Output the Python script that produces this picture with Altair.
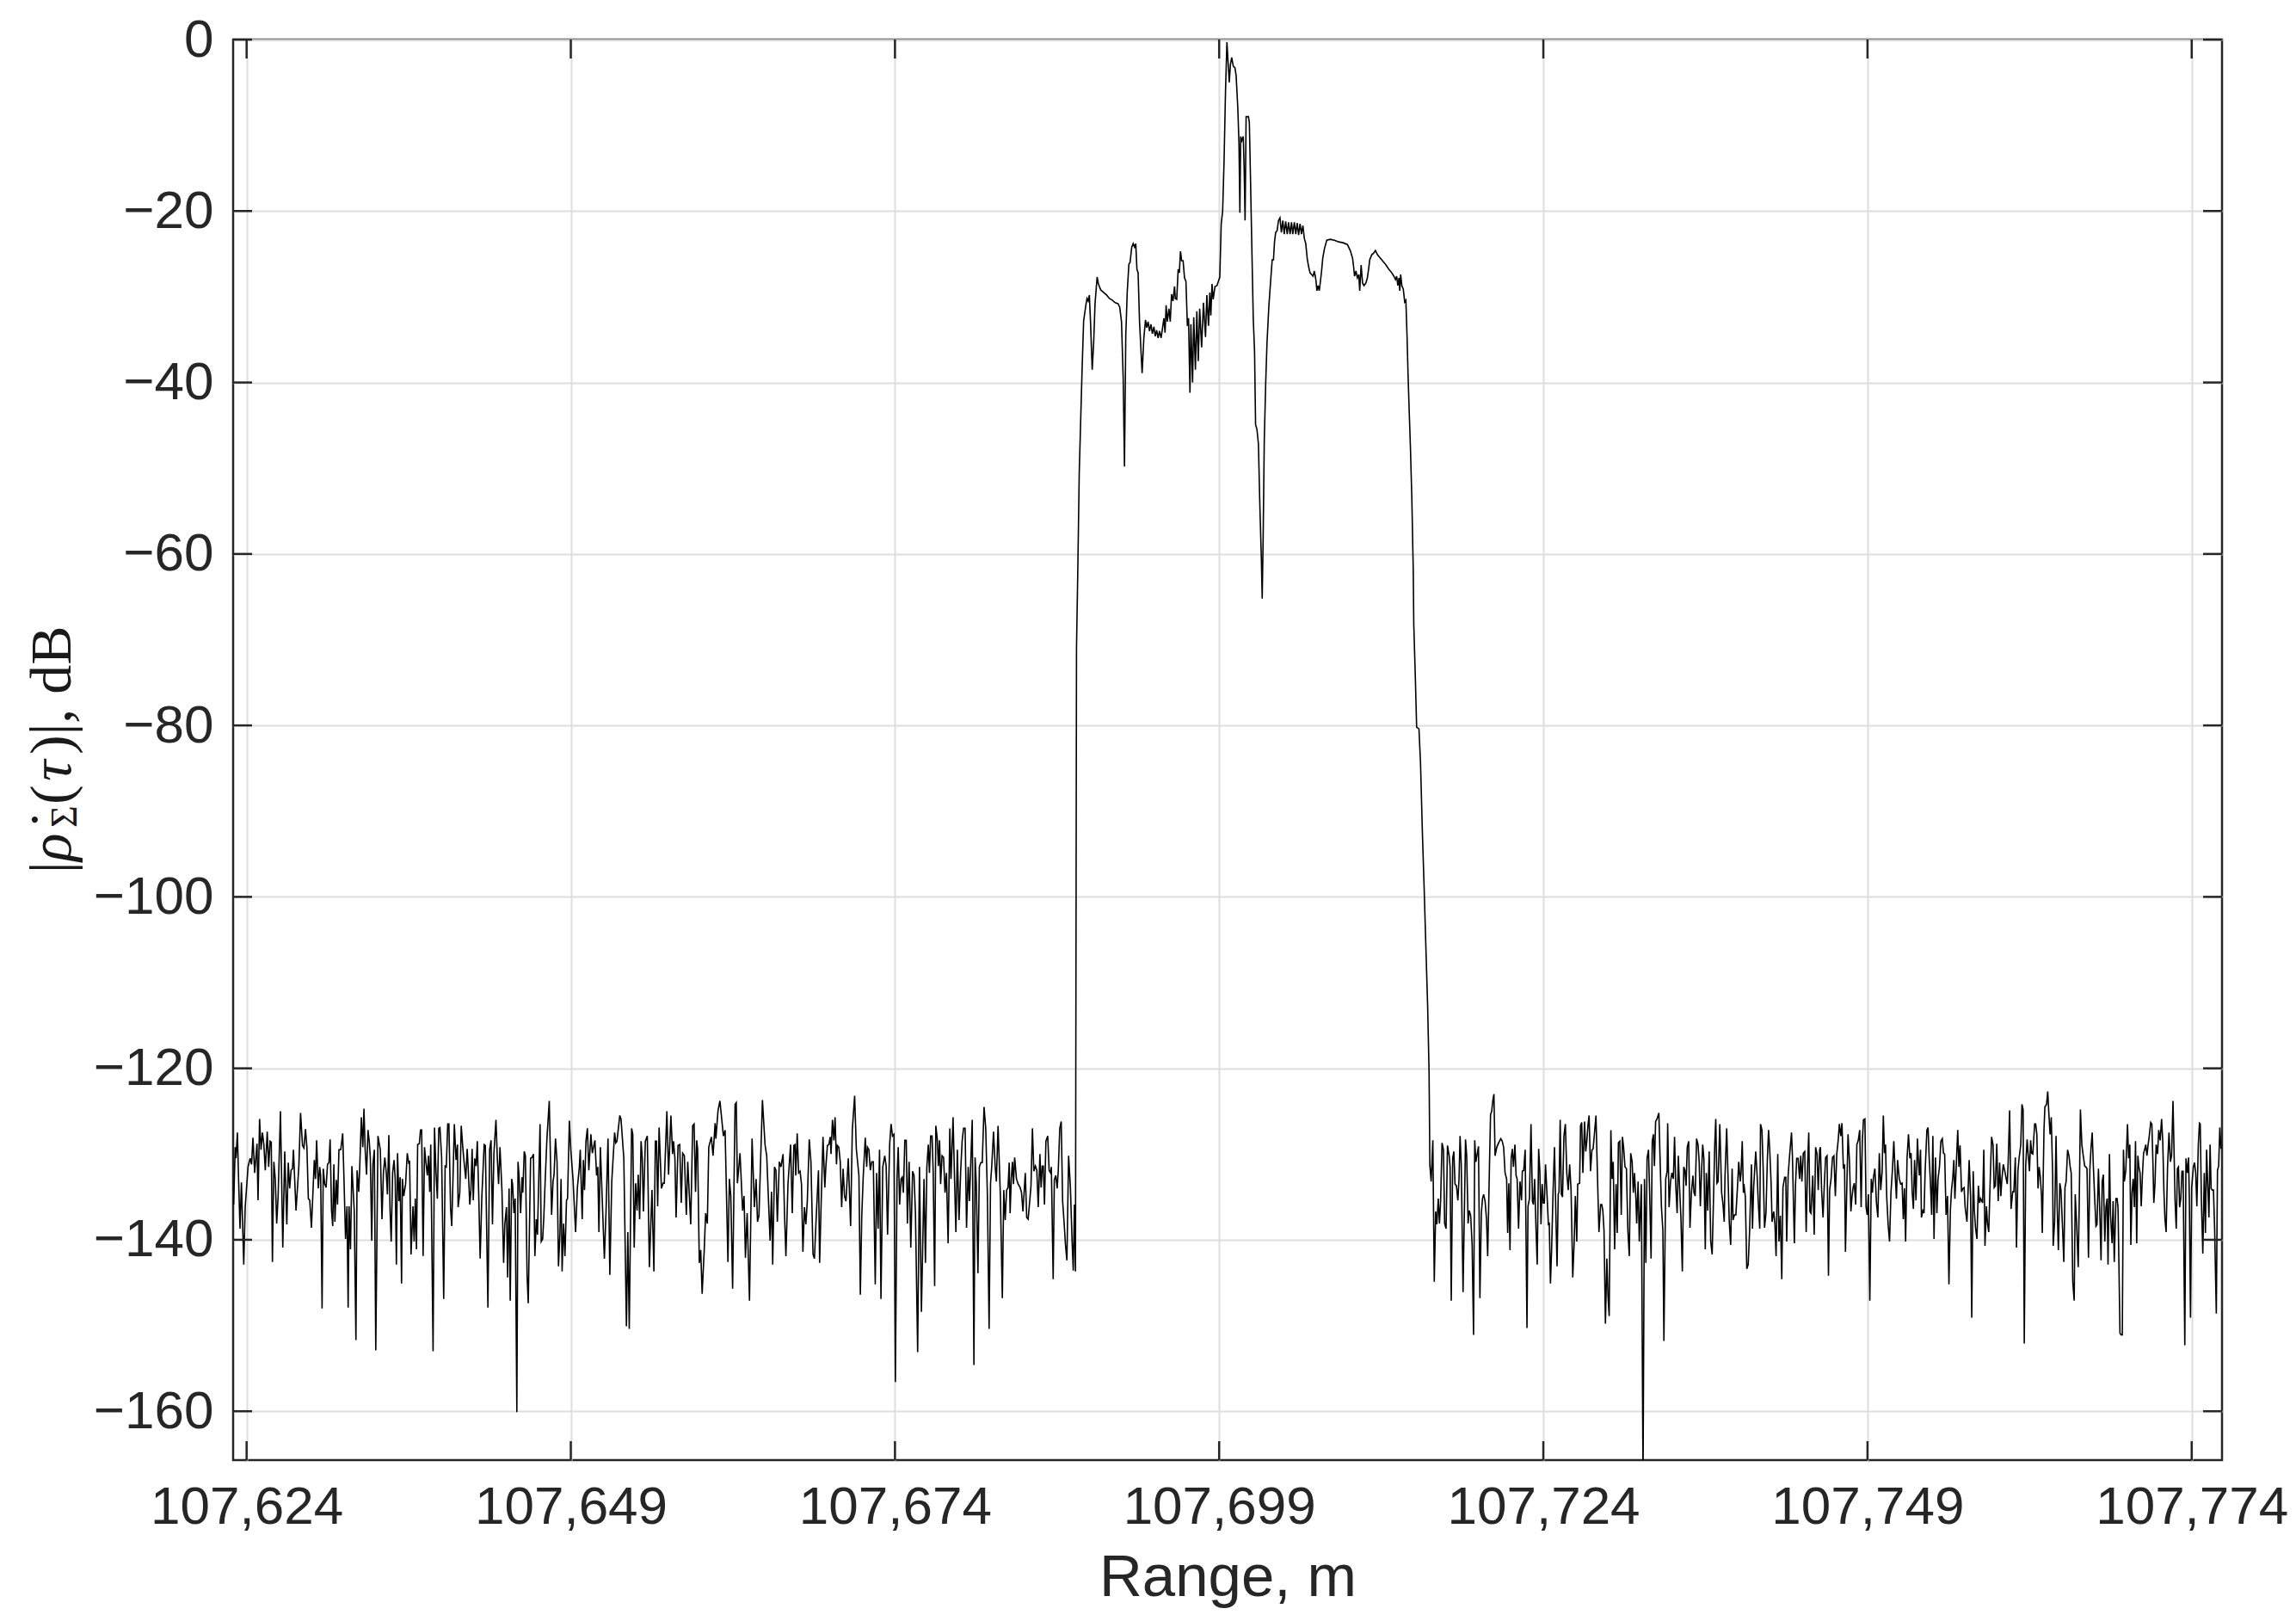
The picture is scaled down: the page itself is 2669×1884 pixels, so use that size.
import altair as alt
import numpy as np
import pandas as pd

# Range values are stored as (range - 107,000 m, level in dB) pairs.
RANGE_BASE = 107000.0

left_noise = [
    (623.00, -135.9), (623.12, -129.2), (623.18, -130.5), (623.29, -127.5), (623.38, -132.9), (623.49, -138.7),
    (623.60, -133.3), (623.78, -142.9), (623.89, -136.2), (624.11, -131.5), (624.27, -130.5), (624.38, -131.2),
    (624.49, -128.1), (624.62, -132.2), (624.80, -128.8), (624.88, -135.4), (625.00, -125.9), (625.11, -129.5),
    (625.22, -127.5), (625.33, -128.9), (625.44, -131.9), (625.59, -127.4), (625.70, -131.5), (625.81, -128.5),
    (625.90, -128.6), (625.99, -142.6), (626.10, -130.9), (626.21, -132.9), (626.32, -138.1), (626.43, -134.9),
    (626.61, -125.0), (626.79, -140.9), (626.94, -129.7), (627.10, -138.2), (627.21, -131.0), (627.32, -134.0),
    (627.43, -131.9), (627.54, -131.7), (627.61, -129.5), (627.81, -136.6), (628.03, -131.4), (628.16, -125.2),
    (628.31, -129.0), (628.42, -129.3), (628.54, -127.1), (628.65, -129.2), (628.76, -135.2), (628.87, -135.4),
    (629.00, -138.6), (629.22, -130.7), (629.31, -132.9), (629.40, -128.4), (629.53, -134.0), (629.64, -131.5),
    (629.71, -132.5), (629.82, -148.0), (629.91, -131.7), (630.02, -133.5), (630.13, -133.9), (630.24, -131.2),
    (630.35, -131.0), (630.44, -128.3), (630.55, -136.6), (630.64, -138.4), (630.73, -131.2), (630.81, -137.9),
    (630.92, -133.0), (631.01, -135.9), (631.12, -129.5), (631.26, -129.5), (631.41, -127.6), (631.50, -132.4),
    (631.63, -139.9), (631.74, -136.1), (631.83, -147.9), (631.90, -136.1), (632.01, -141.1), (632.12, -131.4),
    (632.30, -136.6), (632.43, -151.7), (632.52, -131.9), (632.65, -134.4), (632.72, -131.7), (632.85, -125.7),
    (632.96, -129.2), (633.05, -124.7), (633.14, -129.4), (633.25, -132.4), (633.36, -127.2), (633.45, -128.4),
    (633.54, -130.4), (633.65, -140.1), (633.74, -131.2), (633.85, -129.5), (633.96, -152.9), (634.13, -127.9),
    (634.31, -129.5), (634.44, -137.6), (634.55, -132.2), (634.66, -130.4), (634.77, -132.2), (634.86, -134.7),
    (634.97, -127.8), (635.06, -136.4), (635.15, -140.2), (635.26, -132.2), (635.37, -130.7), (635.46, -132.9),
    (635.55, -142.9), (635.64, -129.9), (635.75, -135.5), (635.84, -132.7), (635.95, -145.1), (636.01, -132.9),
    (636.12, -134.9), (636.26, -133.5), (636.39, -129.9), (636.50, -131.0), (636.57, -130.9), (636.68, -141.7),
    (636.83, -136.1), (636.92, -140.2), (637.01, -135.2), (637.10, -141.1), (637.19, -128.9), (637.32, -128.8),
    (637.41, -127.2), (637.50, -127.2), (637.61, -141.9), (637.72, -129.2), (637.83, -131.0), (637.94, -132.5),
    (638.03, -130.2), (638.12, -134.4), (638.20, -128.9), (638.38, -153.0), (638.49, -126.9), (638.60, -132.0),
    (638.71, -135.2), (638.82, -127.0), (638.91, -126.9), (639.04, -130.4), (639.20, -146.9), (639.31, -131.4),
    (639.40, -131.5), (639.51, -126.5), (639.60, -126.5), (639.73, -136.4), (639.82, -138.4), (639.93, -132.0),
    (640.02, -126.5), (640.15, -130.7), (640.26, -128.9), (640.31, -136.2), (640.44, -134.5), (640.55, -126.7),
    (640.66, -129.0), (640.77, -130.9), (640.90, -132.9), (641.01, -129.4), (641.10, -132.0), (641.21, -135.9),
    (641.30, -134.2), (641.39, -129.4), (641.48, -135.4), (641.59, -130.5), (641.70, -131.4), (641.79, -128.5),
    (641.90, -134.7), (642.01, -142.2), (642.14, -135.0), (642.32, -128.9), (642.41, -129.0), (642.61, -147.9),
    (642.74, -129.5), (642.85, -128.4), (642.96, -138.2), (643.07, -130.0), (643.23, -126.0), (643.34, -130.7),
    (643.43, -133.5), (643.54, -129.2), (643.69, -134.2), (643.82, -142.7), (643.91, -138.2), (644.04, -136.2),
    (644.13, -144.4), (644.24, -134.0), (644.33, -147.1),
    (644.44, -132.9), (644.51, -133.5), (644.62, -136.9), (644.71, -135.2), (644.84, -160.1), (644.93, -130.9),
    (645.01, -132.5), (645.13, -136.9), (645.24, -132.7), (645.30, -134.5), (645.41, -129.7), (645.50, -130.2),
    (645.63, -144.2), (645.72, -147.4), (645.81, -138.9), (645.90, -130.5), (646.01, -130.4), (646.12, -130.0),
    (646.23, -141.9), (646.34, -137.6), (646.43, -139.4), (646.52, -133.5), (646.63, -126.5), (646.72, -140.2),
    (646.83, -139.9), (646.92, -137.4), (647.03, -132.9), (647.16, -128.2), (647.34, -123.8), (647.52, -137.1),
    (647.63, -133.2), (647.71, -132.4), (647.82, -128.2), (647.94, -130.9), (648.05, -143.1), (648.16, -139.4),
    (648.25, -132.9), (648.33, -143.7), (648.44, -138.1), (648.55, -141.9), (648.67, -135.4), (648.75, -135.2),
    (648.89, -126.1), (649.00, -129.5), (649.17, -132.9), (649.37, -139.1), (649.51, -133.9), (649.66, -131.5),
    (649.73, -129.5), (649.88, -137.6), (649.97, -130.7), (650.06, -134.2), (650.17, -128.5), (650.28, -127.0),
    (650.39, -131.9), (650.55, -127.7), (650.66, -129.9), (650.86, -128.4), (650.99, -132.5), (651.08, -131.5),
    (651.17, -139.1), (651.28, -129.2), (651.43, -135.5), (651.59, -142.2), (651.72, -136.6), (651.87, -128.2),
    (652.01, -144.1), (652.16, -133.2), (652.38, -127.5), (652.47, -128.7), (652.56, -128.5), (652.78, -125.5),
    (652.87, -125.9), (653.09, -130.5), (653.29, -150.1), (653.40, -139.1), (653.51, -150.4), (653.69, -127.0),
    (653.78, -127.7), (653.89, -140.9), (654.00, -133.4), (654.11, -136.6), (654.20, -132.4), (654.31, -137.6),
    (654.42, -128.5), (654.51, -130.4), (654.60, -136.7), (654.75, -128.5), (654.90, -127.9), (655.06, -143.2),
    (655.26, -134.2), (655.41, -143.7), (655.52, -128.5), (655.61, -128.5), (655.70, -136.1), (655.81, -126.9),
    (655.99, -134.0), (656.12, -133.4), (656.21, -133.4), (656.41, -125.0), (656.54, -132.4), (656.72, -125.5),
    (656.85, -130.0), (656.92, -128.5), (657.03, -130.5), (657.12, -137.4), (657.27, -129.0), (657.40, -128.9),
    (657.52, -135.7), (657.63, -129.9), (657.76, -130.2), (657.91, -137.1), (658.02, -130.9), (658.25, -138.2),
    (658.40, -126.7), (658.51, -126.5), (658.62, -134.4), (658.71, -128.4), (658.78, -129.4), (658.91, -142.7),
    (659.02, -141.2), (659.13, -146.3), (659.29, -141.2), (659.40, -136.9), (659.53, -138.1), (659.64, -129.2),
    (659.84, -128.0), (659.97, -130.2), (660.13, -126.4), (660.19, -128.2), (660.35, -125.0), (660.50, -123.8),
    (660.77, -127.9), (660.90, -127.2), (661.12, -142.6), (661.23, -132.9), (661.34, -134.9), (661.48, -145.7),
    (661.67, -124.2), (661.76, -124.0), (661.85, -133.4), (662.05, -129.9), (662.25, -136.6), (662.36, -134.9),
    (662.47, -142.1), (662.60, -136.9), (662.78, -147.1), (662.98, -128.2), (663.16, -136.2), (663.29, -132.9),
    (663.40, -137.9), (663.51, -137.2), (663.78, -123.7), (663.98, -128.9), (664.11, -130.2), (664.37, -140.1),
    (664.48, -134.4), (664.57, -142.9), (664.71, -131.5), (664.82, -131.9), (664.93, -137.9), (665.08, -130.9),
    (665.21, -131.5), (665.37, -130.0), (665.48, -136.9), (665.59, -141.9), (665.75, -133.5), (665.95, -128.9),
    (666.08, -136.9),
    (666.20, -129.0), (666.29, -128.9), (666.35, -132.5), (666.46, -127.6), (666.57, -132.2), (666.68, -132.0),
    (666.79, -133.5), (666.90, -141.4), (667.02, -136.2), (667.13, -138.2), (667.24, -135.5), (667.39, -128.3),
    (667.52, -130.9), (667.68, -141.7), (667.79, -142.2), (667.92, -137.6), (668.10, -131.9), (668.19, -142.7),
    (668.30, -136.2), (668.45, -128.0), (668.59, -133.9), (668.67, -131.5), (668.79, -129.0), (668.90, -128.9),
    (669.01, -128.0), (669.07, -130.0), (669.18, -126.0), (669.29, -128.4), (669.38, -125.7), (669.49, -131.2),
    (669.56, -129.0), (669.67, -129.2), (669.78, -130.9), (669.89, -136.2), (670.00, -131.7), (670.11, -134.9),
    (670.22, -135.5), (670.40, -130.5), (670.58, -138.4), (670.71, -127.2), (670.89, -123.2), (671.02, -129.4),
    (671.22, -132.5), (671.33, -146.4), (671.44, -137.2), (671.55, -132.7), (671.71, -128.1), (671.82, -131.5),
    (671.88, -129.2), (671.99, -129.5), (672.10, -131.9), (672.21, -130.9), (672.33, -130.9), (672.48, -145.2),
    (672.59, -132.2), (672.70, -138.7), (672.81, -129.5), (672.92, -146.9), (673.06, -131.5), (673.21, -130.2),
    (673.32, -131.4), (673.43, -139.4), (673.59, -128.9), (673.70, -126.5), (673.81, -127.9), (673.92, -127.7),
    (674.03, -156.6), (674.16, -132.9), (674.25, -129.2), (674.36, -135.9), (674.47, -132.9), (674.56, -132.7),
    (674.65, -134.5), (674.76, -128.4), (674.87, -128.4), (674.96, -138.1), (675.09, -130.9), (675.22, -140.9),
    (675.36, -132.0), (675.47, -132.5), (675.58, -136.9), (675.75, -153.1), (675.89, -131.5), (676.04, -148.4),
    (676.24, -132.9), (676.35, -142.7), (676.46, -131.5), (676.57, -128.9), (676.66, -132.2), (676.75, -127.9),
    (676.86, -127.9), (676.95, -132.2), (677.06, -145.4), (677.15, -126.7), (677.26, -128.2), (677.35, -131.4),
    (677.44, -128.4), (677.52, -133.5), (677.63, -130.2), (677.75, -130.4), (677.86, -134.5), (677.97, -132.2),
    (678.10, -140.4), (678.23, -127.0), (678.32, -132.9), (678.48, -125.7), (678.59, -132.7), (678.70, -139.1),
    (678.81, -129.5), (678.94, -137.7), (679.07, -131.9), (679.18, -128.5), (679.29, -127.0), (679.41, -127.0),
    (679.52, -138.6), (679.65, -131.5), (679.74, -135.5), (679.83, -131.7), (679.96, -126.0), (680.09, -154.6),
    (680.18, -130.4), (680.27, -133.4), (680.40, -143.9), (680.51, -131.5), (680.62, -131.0), (680.73, -131.0),
    (680.87, -124.5), (681.00, -127.0), (681.13, -134.9), (681.26, -150.4), (681.37, -133.4), (681.46, -131.5),
    (681.60, -127.4), (681.73, -131.5), (681.82, -133.2), (681.95, -126.7), (682.13, -134.9), (682.28, -146.8),
    (682.39, -134.2), (682.50, -137.7), (682.61, -134.2), (682.72, -133.9), (682.81, -131.0), (682.88, -136.9),
    (682.97, -132.9), (683.06, -130.9), (683.14, -133.5), (683.23, -130.4), (683.37, -132.9), (683.50, -133.5),
    (683.65, -133.9), (683.76, -134.5), (683.87, -136.7), (684.05, -132.2), (684.16, -137.4), (684.27, -137.6),
    (684.38, -135.7), (684.49, -133.7), (684.60, -127.0), (684.71, -132.0), (684.83, -131.4), (684.94, -131.9),
    (685.05, -136.2), (685.18, -130.0), (685.27, -133.9), (685.36, -131.4), (685.44, -131.4), (685.53, -135.9),
    (685.64, -128.5), (685.78, -127.9), (685.89, -131.9), (686.00, -132.2), (686.06, -131.5), (686.20, -144.6),
    (686.29, -133.0), (686.40, -132.5), (686.51, -134.0), (686.60, -131.7), (686.71, -127.0), (686.82, -126.2),
    (686.93, -135.5), (687.04, -137.9), (687.15, -140.6), (687.26, -142.4), (687.39, -130.2), (687.53, -133.9),
    (687.66, -140.2), (687.75, -143.6), (687.84, -135.9), (687.92, -143.7),
]

central_response = [
    (688.00, -71.0), (688.10, -61.9), (688.21, -50.6), (688.43, -38.5), (688.55, -32.8), (688.73, -30.9),
    (688.81, -30.2), (688.90, -30.5), (688.99, -29.8), (689.08, -32.9), (689.21, -38.5), (689.32, -35.5),
    (689.43, -30.8), (689.59, -27.7), (689.69, -28.5), (689.87, -29.2), (690.09, -29.5), (690.32, -29.8),
    (690.54, -30.2), (690.76, -30.4), (690.98, -30.7), (691.20, -30.8), (691.33, -31.2), (691.47, -32.9),
    (691.60, -39.5), (691.70, -49.8), (691.80, -34.5), (691.91, -29.5), (692.04, -26.2), (692.13, -26.0),
    (692.26, -24.2), (692.37, -23.8), (692.48, -24.2), (692.57, -23.8), (692.66, -26.8), (692.75, -27.2),
    (692.86, -32.9), (692.97, -36.2), (693.06, -38.9), (693.19, -34.9), (693.32, -32.7), (693.42, -33.6),
    (693.52, -32.9), (693.63, -34.0), (693.74, -33.2), (693.85, -34.3), (693.97, -33.5), (694.07, -34.6),
    (694.18, -33.9), (694.29, -34.8), (694.40, -34.0), (694.52, -34.8), (694.63, -33.7), (694.74, -32.5),
    (694.83, -34.2), (694.91, -31.0), (695.00, -32.9), (695.13, -31.4), (695.23, -32.9), (695.33, -29.7),
    (695.44, -30.5), (695.56, -28.8), (695.62, -30.2), (695.73, -30.3), (695.84, -26.8), (695.93, -27.2),
    (696.02, -24.7), (696.11, -25.8), (696.22, -25.8), (696.33, -27.8), (696.44, -28.2), (696.55, -33.4),
    (696.64, -32.5), (696.75, -41.2), (696.82, -33.2), (696.95, -40.0), (697.04, -32.4), (697.17, -38.5),
    (697.28, -31.7), (697.39, -37.5), (697.50, -31.4), (697.65, -35.9), (697.79, -30.7), (697.95, -34.7),
    (698.05, -29.8), (698.18, -33.4), (698.28, -29.5), (698.36, -32.2), (698.45, -28.5), (698.54, -30.3),
    (698.68, -28.8), (698.83, -28.7), (699.05, -27.7), (699.16, -21.5), (699.27, -20.0), (699.38, -14.1),
    (699.49, -6.1), (699.60, -0.3), (699.78, -5.0), (699.87, -2.9), (699.97, -2.1), (700.09, -3.1),
    (700.22, -3.3), (700.31, -4.2), (700.44, -8.0), (700.53, -12.2), (700.60, -20.2), (700.66, -11.3),
    (700.75, -11.8), (700.86, -11.3), (700.93, -15.1), (701.00, -21.1), (701.08, -9.0), (701.26, -9.0),
    (701.33, -9.7), (701.41, -15.6), (701.53, -24.9), (701.63, -32.5), (701.73, -36.3), (701.81, -44.9),
    (701.92, -45.5), (702.03, -47.2), (702.14, -54.4), (702.26, -60.8), (702.32, -65.2), (702.39, -58.6),
    (702.48, -46.8), (702.59, -40.1), (702.69, -35.4), (702.83, -31.2), (702.96, -28.4), (703.09, -25.7),
    (703.19, -25.7), (703.27, -23.6), (703.36, -22.5), (703.47, -22.3), (703.58, -21.1), (703.69, -20.8),
    (703.80, -22.5), (703.91, -21.1), (704.02, -22.7), (704.13, -21.2), (704.25, -22.7), (704.35, -21.3),
    (704.47, -22.7), (704.58, -21.3), (704.68, -22.7), (704.80, -21.3), (704.91, -22.7), (705.02, -21.4),
    (705.13, -22.8), (705.24, -21.5), (705.35, -22.7), (705.46, -21.7), (705.57, -23.2), (705.68, -23.8),
    (705.79, -25.5), (705.90, -26.5), (706.01, -27.2), (706.12, -27.4), (706.24, -27.6), (706.34, -27.0),
    (706.46, -28.0), (706.54, -29.3), (706.63, -28.7), (706.72, -29.3), (706.81, -28.2), (706.90, -27.0),
    (706.99, -25.5), (707.12, -24.4), (707.30, -23.4), (707.56, -23.3), (707.89, -23.4), (708.23, -23.6),
    (708.56, -23.7), (708.89, -23.9), (709.11, -24.6), (709.29, -25.5), (709.37, -26.5), (709.44, -27.6),
    (709.55, -27.0), (709.66, -27.8), (709.77, -27.4), (709.84, -29.3), (709.95, -26.3), (710.06, -28.4),
    (710.17, -28.7), (710.32, -28.4), (710.43, -27.8), (710.55, -26.5), (710.61, -25.7), (710.77, -25.1),
    (710.92, -24.9), (711.05, -24.6), (711.21, -25.1), (711.43, -25.5), (711.65, -25.9), (711.87, -26.3),
    (712.09, -26.8), (712.31, -27.2), (712.47, -27.6), (712.60, -28.0), (712.69, -27.6), (712.78, -28.7),
    (712.87, -27.8), (712.93, -29.3), (713.00, -27.4), (713.09, -28.7), (713.20, -29.1), (713.31, -30.6),
    (713.40, -30.4), (713.49, -34.6), (713.57, -39.2), (713.67, -43.9), (713.75, -47.5), (713.86, -53.5),
    (713.97, -62.0), (714.01, -68.2), (714.13, -74.4), (714.23, -80.2), (714.41, -80.4), (714.53, -84.4),
    (714.68, -92.8), (714.81, -99.0), (714.96, -106.7), (715.08, -112.8), (715.19, -120.5), (715.25, -131.3),
]

right_noise = [
    (715.35, -133.2), (715.48, -128.4), (715.59, -144.9), (715.70, -136.7), (715.79, -138.2), (715.90, -135.2),
    (715.99, -138.1), (716.08, -135.5), (716.19, -128.7), (716.30, -129.5), (716.39, -138.1), (716.50, -138.7),
    (716.61, -129.0), (716.74, -130.2), (716.81, -131.5), (716.90, -147.1), (717.01, -130.5), (717.10, -129.7),
    (717.19, -133.5), (717.30, -133.7), (717.41, -135.4), (717.50, -132.9), (717.58, -127.9), (717.67, -131.2),
    (717.81, -146.1), (717.92, -135.9), (718.00, -128.3), (718.09, -130.2), (718.20, -138.1), (718.29, -136.6),
    (718.40, -137.2), (718.51, -140.6), (718.62, -151.1), (718.71, -128.4), (718.80, -130.9), (718.91, -129.9),
    (719.00, -129.1), (719.11, -146.8), (719.22, -136.9), (719.31, -135.2), (719.40, -134.7), (719.51, -135.5),
    (719.62, -137.6), (719.71, -141.9), (719.84, -131.9), (719.93, -125.4), (720.02, -125.0), (720.10, -123.8),
    (720.19, -123.0), (720.28, -130.2), (720.41, -129.2), (720.55, -128.7), (720.72, -128.2), (720.83, -128.5),
    (720.94, -129.2), (721.05, -132.2), (721.17, -132.9), (721.25, -139.2), (721.34, -133.4), (721.43, -141.2),
    (721.52, -130.5), (721.61, -129.4), (721.70, -131.5), (721.81, -128.9), (721.90, -132.5), (721.98, -132.9),
    (722.09, -138.7), (722.20, -133.2), (722.32, -135.4), (722.38, -132.0), (722.49, -131.9), (722.60, -129.5),
    (722.74, -150.3), (722.82, -136.1), (722.93, -135.2), (723.05, -126.5), (723.16, -135.5), (723.24, -135.9),
    (723.33, -132.9), (723.44, -138.9), (723.53, -142.9), (723.64, -129.4), (723.73, -131.9), (723.82, -138.2),
    (723.91, -133.5), (724.00, -135.7), (724.08, -135.7), (724.17, -131.2), (724.31, -135.5), (724.39, -138.2),
    (724.46, -138.1), (724.55, -145.1), (724.64, -141.1), (724.75, -134.5), (724.86, -129.2), (724.97, -137.2),
    (725.06, -143.1), (725.15, -134.7), (725.21, -134.4), (725.30, -126.0), (725.39, -134.7), (725.48, -135.0),
    (725.59, -127.9), (725.70, -126.5), (725.81, -132.2), (725.92, -134.2), (726.03, -131.2), (726.14, -134.2),
    (726.27, -144.4), (726.38, -140.2), (726.47, -134.9), (726.58, -140.2), (726.65, -133.5), (726.80, -133.4),
    (726.87, -126.7), (726.96, -126.3), (727.05, -132.2), (727.18, -126.2), (727.27, -129.7), (727.36, -128.4),
    (727.44, -126.7), (727.53, -125.5), (727.64, -132.0), (727.75, -129.5), (727.84, -129.4), (727.95, -127.5),
    (728.06, -125.5), (728.17, -132.2), (728.29, -139.1), (728.42, -135.9), (728.51, -135.9), (728.59, -136.6),
    (728.68, -138.9), (728.79, -149.8), (728.90, -142.2), (728.99, -146.6), (729.08, -148.9), (729.21, -127.2),
    (729.30, -132.9), (729.39, -130.9), (729.50, -141.1), (729.61, -133.5), (729.70, -139.2), (729.79, -128.7),
    (729.90, -128.5), (730.01, -137.1), (730.10, -128.0), (730.19, -129.2), (730.30, -131.5), (730.41, -131.7),
    (730.52, -138.9), (730.63, -141.9), (730.74, -129.9), (730.85, -130.9), (730.94, -134.5), (731.03, -132.2),
    (731.14, -135.2), (731.20, -138.1), (731.31, -133.2), (731.40, -140.2), (731.56, -133.5), (731.69, -168.0),
    (731.80, -132.9), (731.91, -142.7), (732.00, -130.5), (732.11, -129.5), (732.22, -135.9), (732.31, -142.2),
    (732.40, -128.5), (732.49, -127.7), (732.57, -131.4), (732.66, -126.2), (732.77, -125.9), (732.91, -125.2),
    (733.02, -131.5), (733.11, -136.2), (733.22, -138.9), (733.30, -151.8), (733.44, -132.9), (733.55, -132.0),
    (733.59, -126.4), (733.70, -136.2), (733.81, -133.2), (733.92, -132.2), (734.03, -132.9), (734.12, -128.0),
    (734.21, -133.5), (734.32, -136.9), (734.41, -130.2), (734.50, -133.7), (734.61, -137.4), (734.72, -143.7),
    (734.83, -131.5), (734.92, -131.9), (735.01, -133.7), (735.10, -129.2), (735.21, -128.5),
    (735.31, -138.6), (735.42, -134.5), (735.54, -132.5), (735.62, -134.5), (735.71, -134.9), (735.82, -128.2),
    (735.93, -128.9), (736.02, -130.9), (736.11, -136.1), (736.20, -132.2), (736.29, -128.9), (736.38, -130.5),
    (736.49, -141.1), (736.57, -132.2), (736.68, -136.6), (736.79, -129.7), (736.91, -140.2), (737.02, -141.7),
    (737.11, -136.2), (737.22, -128.9), (737.30, -125.9), (737.39, -133.4), (737.48, -133.2), (737.61, -126.5),
    (737.75, -134.5), (737.86, -135.9), (737.95, -137.9), (738.01, -132.7), (738.14, -127.0), (738.25, -132.9),
    (738.34, -137.9), (738.45, -140.6), (738.56, -131.7), (738.63, -137.7), (738.74, -137.1), (738.85, -137.1),
    (738.96, -134.2), (739.07, -130.9), (739.18, -133.2), (739.25, -132.2), (739.34, -128.5), (739.43, -134.5),
    (739.47, -133.5), (739.58, -135.0), (739.69, -143.4), (739.80, -142.9), (739.91, -138.9), (740.05, -131.2),
    (740.13, -138.7), (740.22, -133.9), (740.38, -129.7), (740.49, -132.5), (740.58, -135.7), (740.69, -138.7),
    (740.75, -126.5), (740.86, -127.2), (740.95, -131.5), (741.06, -138.6), (741.17, -136.9), (741.28, -130.5),
    (741.37, -127.2), (741.46, -129.5), (741.57, -133.5), (741.64, -137.9), (741.77, -136.7), (741.86, -138.1),
    (741.95, -141.9), (742.08, -130.0), (742.17, -140.2), (742.28, -137.2), (742.39, -144.6), (742.48, -133.9),
    (742.61, -132.7), (742.70, -132.7), (742.77, -140.2), (742.88, -132.5), (742.99, -130.2), (743.14, -127.5),
    (743.21, -130.2), (743.36, -140.4), (743.45, -133.5), (743.54, -130.5), (743.65, -130.5), (743.76, -132.9),
    (743.85, -130.2), (743.94, -133.2), (744.05, -129.9), (744.16, -129.7), (744.27, -139.1), (744.38, -131.2),
    (744.47, -127.5), (744.56, -136.7), (744.64, -136.9), (744.78, -132.5), (744.89, -139.4), (745.00, -129.2),
    (745.11, -130.0), (745.20, -134.2), (745.31, -129.5), (745.37, -129.2), (745.46, -134.2), (745.57, -137.4),
    (745.66, -133.9), (745.77, -130.4), (745.88, -130.2), (745.99, -144.2), (746.08, -134.2), (746.19, -132.9),
    (746.30, -130.4), (746.41, -130.2), (746.52, -134.9), (746.63, -130.0), (746.74, -128.4), (746.83, -126.5),
    (746.94, -127.9), (747.03, -126.4), (747.14, -131.7), (747.23, -131.2), (747.30, -141.4), (747.41, -133.5),
    (747.50, -127.7), (747.61, -130.9), (747.72, -136.7), (747.81, -134.9), (747.89, -133.9), (747.98, -133.4),
    (748.09, -135.9), (748.18, -128.9), (748.29, -128.4), (748.40, -127.2), (748.51, -136.2), (748.60, -128.5),
    (748.69, -126.0), (748.80, -125.9), (748.89, -136.2), (748.98, -137.1), (749.07, -134.7), (749.18, -147.1),
    (749.29, -132.9), (749.38, -134.5), (749.46, -132.7), (749.57, -131.7), (749.69, -135.7), (749.80, -137.4),
    (749.91, -129.9), (750.02, -134.2), (750.13, -132.0), (750.22, -125.5), (750.31, -129.9), (750.39, -128.9),
    (750.48, -134.9), (750.59, -138.2), (750.70, -140.2), (750.81, -134.5), (750.92, -131.9), (751.03, -128.5),
    (751.14, -132.5), (751.23, -135.2), (751.32, -130.7), (751.45, -132.9), (751.56, -133.5), (751.67, -133.4),
    (751.76, -137.6), (751.85, -134.0), (751.94, -140.2), (752.05, -130.5), (752.16, -127.7), (752.27, -130.5),
    (752.36, -129.9), (752.45, -134.5), (752.54, -136.4), (752.63, -130.7), (752.74, -135.4), (752.85, -128.2),
    (752.94, -131.2), (753.00, -132.5), (753.09, -129.5), (753.16, -137.4), (753.27, -136.6), (753.36, -136.9),
    (753.44, -132.2), (753.58, -127.2), (753.67, -126.9), (753.75, -130.2), (753.84, -132.9), (753.95, -137.1),
    (754.04, -127.9), (754.13, -139.9), (754.24, -130.4), (754.35, -136.9), (754.44, -132.9), (754.55, -131.5),
    (754.66, -128.5), (754.77, -128.2), (754.86, -129.9), (754.95, -130.0), (755.06, -137.1), (755.17, -134.9),
    (755.28, -145.2), (755.39, -136.6), (755.48, -134.2), (755.57, -132.9), (755.66, -130.7), (755.74, -135.2),
    (755.85, -131.2),
    (755.96, -127.2), (756.05, -131.5), (756.14, -129.0), (756.25, -134.4), (756.36, -134.0), (756.45, -133.9),
    (756.53, -136.2), (756.67, -137.9), (756.76, -134.2), (756.84, -130.7), (756.95, -134.9), (757.04, -149.1),
    (757.15, -132.0), (757.24, -136.6), (757.33, -138.6), (757.44, -139.9), (757.55, -133.7), (757.64, -135.7),
    (757.73, -135.2), (757.82, -135.5), (757.88, -135.7), (757.97, -129.5), (758.06, -140.7), (758.17, -136.1),
    (758.26, -138.2), (758.35, -139.1), (758.48, -132.2), (758.57, -128.0), (758.68, -128.9), (758.77, -133.9),
    (758.86, -133.7), (758.97, -128.8), (759.08, -135.5), (759.19, -131.0), (759.28, -134.9), (759.36, -133.0),
    (759.47, -131.2), (759.59, -132.0), (759.70, -132.9), (759.78, -133.5), (759.85, -130.9), (759.96, -124.9),
    (760.07, -136.4), (760.20, -134.4), (760.29, -134.4), (760.40, -130.4), (760.49, -140.9), (760.60, -132.0),
    (760.69, -130.5), (760.82, -128.9), (760.91, -124.2), (761.00, -124.8), (761.09, -152.1), (761.20, -131.4),
    (761.31, -128.3), (761.40, -130.2), (761.49, -132.0), (761.58, -128.4), (761.66, -129.9), (761.75, -130.0),
    (761.89, -126.5), (761.97, -126.5), (762.06, -127.7), (762.15, -134.0), (762.24, -131.5), (762.33, -132.7),
    (762.42, -134.9), (762.48, -139.2), (762.61, -127.2), (762.68, -124.5), (762.81, -124.2), (762.90, -122.7),
    (762.99, -125.4), (763.08, -127.7), (763.17, -125.7), (763.28, -132.5), (763.32, -140.7), (763.43, -137.9),
    (763.54, -127.9), (763.63, -136.2), (763.72, -141.2), (763.83, -133.4), (763.92, -134.2), (764.05, -138.9),
    (764.14, -142.6), (764.23, -133.9), (764.32, -133.2), (764.43, -129.5), (764.54, -130.2), (764.63, -131.5),
    (764.71, -132.2), (764.83, -144.9), (764.94, -147.1), (765.02, -134.7), (765.13, -138.2), (765.25, -143.2),
    (765.33, -135.5), (765.42, -124.8), (765.53, -128.9), (765.64, -130.2), (765.75, -131.4), (765.84, -131.5),
    (765.93, -131.7), (766.04, -142.1), (766.15, -131.7), (766.24, -129.2), (766.33, -127.5), (766.42, -131.5),
    (766.53, -135.5), (766.62, -138.4), (766.70, -138.2), (766.81, -131.7), (766.93, -137.6), (767.01, -142.4),
    (767.10, -133.2), (767.19, -132.4), (767.30, -140.2), (767.39, -136.2), (767.48, -135.2), (767.55, -142.9),
    (767.66, -130.0), (767.74, -137.1), (767.86, -140.4), (767.94, -135.5), (768.03, -142.6), (768.16, -135.2),
    (768.25, -135.2), (768.32, -136.2), (768.39, -142.9), (768.47, -150.9), (768.56, -151.1), (768.65, -151.1),
    (768.74, -129.5), (768.81, -133.2), (768.92, -131.9), (769.05, -126.5), (769.14, -130.5), (769.23, -128.9),
    (769.31, -140.6), (769.40, -134.5), (769.49, -132.9), (769.58, -136.2), (769.67, -128.5), (769.76, -140.4),
    (769.85, -130.2), (769.93, -131.5), (770.02, -132.2), (770.11, -136.1), (770.20, -132.5), (770.29, -129.9),
    (770.37, -129.5), (770.46, -128.9), (770.55, -130.2), (770.64, -128.9), (770.73, -127.9), (770.84, -126.3),
    (770.93, -126.5), (771.02, -131.5), (771.08, -135.7), (771.17, -133.5), (771.26, -128.9), (771.37, -130.0),
    (771.46, -127.2), (771.57, -128.4), (771.68, -125.9), (771.77, -128.5), (771.86, -134.4), (771.94, -137.6),
    (772.03, -139.1), (772.14, -131.5), (772.25, -127.5), (772.36, -130.9), (772.45, -130.2), (772.56, -123.8),
    (772.63, -128.9), (772.72, -135.5), (772.81, -138.7), (772.90, -131.7), (772.98, -131.5), (773.07, -136.2),
    (773.16, -135.2), (773.25, -132.0), (773.34, -132.0), (773.47, -152.3), (773.56, -130.5), (773.67, -132.2),
    (773.76, -130.4), (773.82, -135.2), (773.91, -149.1), (774.00, -133.9), (774.13, -131.5), (774.22, -131.0),
    (774.31, -132.2), (774.40, -136.1), (774.51, -129.0), (774.60, -126.4), (774.66, -126.5), (774.75, -135.4),
    (774.86, -141.6), (774.97, -132.2), (775.06, -139.2), (775.15, -129.5), (775.24, -133.5), (775.33, -137.4),
    (775.42, -128.9), (775.50, -134.0), (775.59, -134.2), (775.68, -134.2), (775.77, -138.7), (775.90, -148.6),
    (775.99, -131.9), (776.08, -131.4), (776.17, -126.9), (776.26, -129.4),
]

x_tick_values = [107624, 107649, 107674, 107699, 107724, 107749, 107774]
y_tick_values = [0, -20, -40, -60, -80, -100, -120, -140, -160]
x_domain = [107622.96, 107776.34]
y_domain = [-165.7, 0]

x_title = "Range, m"
# y title pieces: "|ρ̇", subscript "Σ", "(", "τ", ")|, dB"

points = left_noise + central_response + right_noise
df = pd.DataFrame({
    "range": [RANGE_BASE + p[0] for p in points],
    "db": [p[1] for p in points],
})

W, H = 2312, 1651
AX = "#262626"
GRID = "#dedede"
SANS = "Liberation Sans"
SERIF = "Liberation Serif"

xs = alt.Scale(domain=x_domain, nice=False, zero=False)
ys = alt.Scale(domain=y_domain, nice=False, zero=False)

x_axis = alt.Axis(
    values=x_tick_values, format=",.0f", title=x_title, grid=True, gridColor=GRID, gridWidth=2,
    ticks=False, tickSize=0, domain=False, labelFont=SANS, labelFontSize=62, labelColor=AX,
    labelPadding=24, labelFlush=False, labelOverlap=False, labelBound=False, labelLimit=1000,
    titleFont=SANS, titleFontSize=69, titleFontWeight="normal", titleColor=AX,
    titleY=157, titleBaseline="alphabetic", titleLimit=2000)
y_axis = alt.Axis(
    values=y_tick_values, format="d", title="", grid=True, gridColor=GRID, gridWidth=2,
    ticks=False, tickSize=0, domain=False, labelFont=SANS, labelFontSize=62, labelColor=AX,
    labelPadding=23, labelFlush=False, labelOverlap=False, labelBound=False, labelLimit=1000)

line = alt.Chart(df).mark_line(color="#000000", strokeWidth=1.6, clip=True).encode(
    x=alt.X("range:Q", scale=xs, axis=x_axis),
    y=alt.Y("db:Q", scale=ys, axis=y_axis),
)

xt = pd.DataFrame({"range": x_tick_values})
yt = pd.DataFrame({"db": y_tick_values})
tick_style = dict(color=AX, strokeWidth=2.5)

x_ticks_bottom = alt.Chart(xt).mark_rule(**tick_style).encode(
    x=alt.X("range:Q", scale=xs, axis=x_axis), y=alt.value(H - 22), y2=alt.value(H))
x_ticks_top = alt.Chart(xt).mark_rule(**tick_style).encode(
    x=alt.X("range:Q", scale=xs, axis=x_axis), y=alt.value(0), y2=alt.value(22))
y_ticks_left = alt.Chart(yt).mark_rule(**tick_style).encode(
    y=alt.Y("db:Q", scale=ys, axis=y_axis), x=alt.value(0), x2=alt.value(22))
y_ticks_right = alt.Chart(yt).mark_rule(**tick_style).encode(
    y=alt.Y("db:Q", scale=ys, axis=y_axis), x=alt.value(W - 22), x2=alt.value(W))

one = pd.DataFrame({"k": [0]})
TX = -189
def title_piece(text, y, size=68, italic=False, dx=0):
    kw = dict(text=text, angle=270, align="left", baseline="alphabetic", font=SERIF,
              fontSize=size, color="#1a1a1a")
    if italic:
        kw["fontStyle"] = "italic"
    return alt.Chart(one).mark_text(**kw).encode(x=alt.value(TX + dx), y=alt.value(y))

ytitle = [
    title_piece("|", 969),
    title_piece("\u03c1\u0307", 955, italic=True),
    title_piece("\u03a3", 916, size=44, dx=7),
    title_piece("(", 889),
    title_piece("\u03c4", 862, italic=True),
    title_piece(")|, dB", 831),
]

chart = alt.layer(line, x_ticks_bottom, x_ticks_top, y_ticks_left, y_ticks_right, *ytitle).properties(
    width=W, height=H,
    autosize=alt.AutoSizeParams(type="none"),
    padding={"left": 263, "top": 38, "right": 78, "bottom": 179},
    background="white",
).configure_view(stroke=AX, strokeWidth=2.5)

chart.save("out.html", embed_options={"renderer": "svg", "actions": False})
